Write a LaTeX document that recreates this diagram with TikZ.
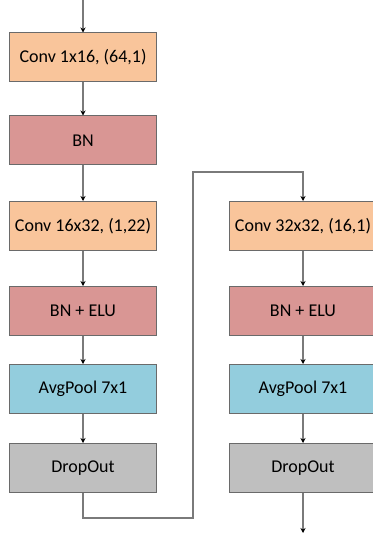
\documentclass[tikz,border=0pt]{standalone}
\usepackage{fontspec}
\setmainfont{Carlito}
\usetikzlibrary{arrows.meta}
\definecolor{convcol}{HTML}{F9C59B}
\definecolor{bncol}{HTML}{D99694}
\definecolor{poolcol}{HTML}{93CDDD}
\definecolor{dropcol}{HTML}{BFBFBF}
\definecolor{edgecol}{HTML}{6A6A6A}
\definecolor{linecol}{HTML}{7A7A7A}
\begin{document}
\begin{tikzpicture}[x=1pt,y=-1pt,>={Stealth[black,length=5pt,width=5pt]},
	layer/.style={draw=edgecol,line width=1pt,minimum width=147pt,minimum height=49pt,inner sep=0pt,font=\fontsize{18}{21}\selectfont},
	conv/.style={layer,fill=convcol},
	bn/.style={layer,fill=bncol},
	pool/.style={layer,fill=poolcol},
	drop/.style={layer,fill=dropcol},
	link/.style={draw=linecol,line width=1.1pt}]
		\useasboundingbox (0,0) rectangle (372,537);
		% left branch
		\node[conv] (conva) at (83,57.5) {Conv 1x16, (64,1)};
		\node[bn] (bna) at (83,140.5) {BN};
		\node[conv] (convb) at (83,226) {Conv 16x32, (1,22)};
		\node[bn] (elub) at (83,311) {BN + ELU};
		\node[pool] (poolb) at (83,389) {AvgPool 7x1};
		\node[drop] (dropb) at (83,468) {DropOut};
		% right branch
		\node[conv] (convc) at (303,226) {Conv 32x32, (16,1)};
		\node[bn] (eluc) at (303,311) {BN + ELU};
		\node[pool] (poolc) at (303,389) {AvgPool 7x1};
		\node[drop] (dropc) at (303,468) {DropOut};
		\coordinate (in) at (83,0);
		\coordinate (out) at (303,533);
		\coordinate (turnb) at (83,518);
		\coordinate (turnc) at (193,518);
		\coordinate (turnd) at (193,172);
		\coordinate (turne) at (303,172);
		\draw[link,->] (in) -- (conva);
		\draw[link,->] (conva) -- (bna);
		\draw[link,->] (bna) -- (convb);
		\draw[link,->] (convb) -- (elub);
		\draw[link,->] (elub) -- (poolb);
		\draw[link,->] (poolb) -- (dropb);
		\draw[link,->] (dropb) -- (turnb) -- (turnc) -- (turnd) -- (turne) -- (convc);
		\draw[link,->] (convc) -- (eluc);
		\draw[link,->] (eluc) -- (poolc);
		\draw[link,->] (poolc) -- (dropc);
		\draw[link,->] (dropc) -- (out);
\end{tikzpicture}
\end{document}
